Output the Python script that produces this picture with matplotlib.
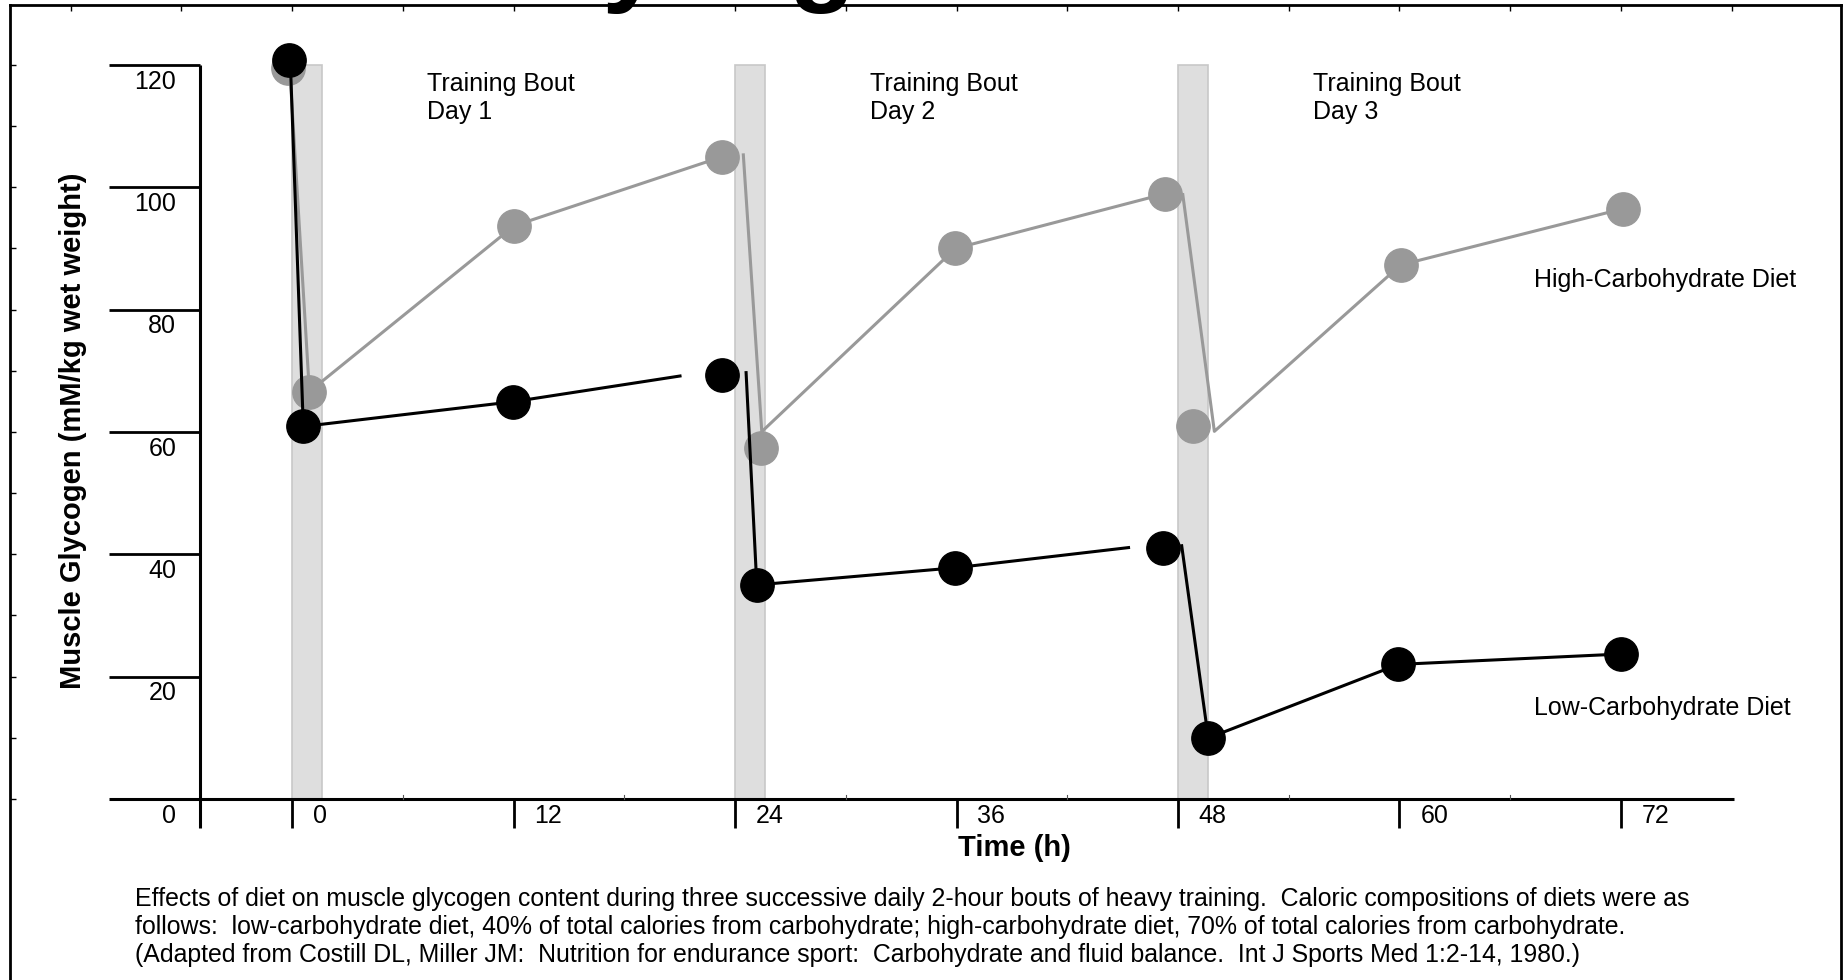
import numpy as np
import matplotlib
matplotlib.use("Agg")
import matplotlib.pyplot as plt
from matplotlib.patches import Rectangle

plt.rcParams['font.family'] = ['Liberation Sans', 'DejaVu Sans']

nan = np.nan

# marker positions: time (h), muscle glycogen (mM/kg wet weight)
high_t = [-0.2, 0.94, 12.03, 23.31, 25.41, 35.94, 47.3, 48.83, 60.06, 72.11]
high_v = [119.5, 66.6, 93.7, 105.0, 57.4, 90.0, 98.95, 61.0, 87.3, 96.5]
low_t = [-0.15, 0.61, 11.99, 23.28, 25.18, 35.94, 47.2, 49.64, 59.94, 72.0]
low_v = [120.8, 60.9, 64.95, 69.3, 35.0, 37.8, 41.0, 9.97, 22.0, 23.7]

# connecting lines as they are drawn in the figure (nan splits segments)
high_line_t = [-0.11, 0.94, 12.03, 23.31, nan, 24.45, 25.45, 35.94, 47.3, nan, 48.26, 49.97, 60.06, 72.11]
high_line_v = [118.7, 66.6, 93.7, 105.0, nan, 105.3, 60.05, 90.0, 98.95, nan, 98.8, 60.1, 87.3, 96.5]
low_line_t = [-0.07, 0.61, 11.99, 21.02, nan, 24.6, 25.18, 35.94, 45.32, nan, 48.2, 49.64, 59.94, 72.0]
low_line_v = [118.7, 60.9, 64.95, 69.15, nan, 69.7, 35.0, 37.8, 41.1, nan, 41.4, 9.97, 22.0, 23.7]

bout_start = [0, 24, 48]
bout_len = 1.6
bout_top = 120
bout_labels = ["Training Bout\nDay 1", "Training Bout\nDay 2", "Training Bout\nDay 3"]

x_ticks = [0, 12, 24, 36, 48, 60, 72]
x_minor = [6, 18, 30, 42, 54, 66]
y_ticks = [0, 20, 40, 60, 80, 100, 120]

caption = ("Effects of diet on muscle glycogen content during three successive daily 2-hour bouts of heavy training.  "
           "Caloric compositions of diets were as\n"
           "follows:  low-carbohydrate diet, 40% of total calories from carbohydrate; high-carbohydrate diet, "
           "70% of total calories from carbohydrate.\n"
           "(Adapted from Costill DL, Miller JM:  Nutrition for endurance sport:  Carbohydrate and fluid balance.  "
           "Int J Sports Med 1:2-14, 1980.)")

W, H = 1847, 980
fig = plt.figure(figsize=(W / 100, H / 100), dpi=100)
ax = fig.add_axes([10 / W, 0, (1841 - 10) / W, (H - 5) / H])
ax.set_xlim(-15.28, 83.92)
ax.set_ylim(-29.59, 129.8)

# outer frame
for side in ['left', 'top', 'right']:
    ax.spines[side].set_linewidth(2)
ax.spines['bottom'].set_visible(False)
ax.set_yticks(np.arange(0, 130, 10))
ax.xaxis.set_ticks_position('top')
ax.set_xticks(np.arange(-12, 84, 6))
ax.tick_params(direction='in', length=4, width=1, labelleft=False, labeltop=False,
               labelbottom=False, right=False, bottom=False)

# shaded training bouts
for s in bout_start:
    ax.add_patch(Rectangle((s, 0), bout_len, bout_top, facecolor='#dedede',
                           edgecolor='#c8c8c8', linewidth=1.2, zorder=1))

# axes drawn inside the frame
y_axis_t = -5
x_left, x_right = -9.9, 78.1
tick_drop = -4.75
ax.plot([x_left, x_right], [0, 0], color='black', lw=2.2, zorder=2, solid_capstyle='butt')
ax.plot([y_axis_t, y_axis_t], [tick_drop, 120], color='black', lw=2.2, zorder=2, solid_capstyle='butt')
for v in y_ticks[1:]:
    ax.plot([x_left, y_axis_t], [v, v], color='black', lw=2, zorder=2, solid_capstyle='butt')
for v in y_ticks:
    ax.annotate(str(v), (y_axis_t, v), xytext=(-17, -12), textcoords='offset points',
                ha='right', va='center', fontsize=18)
for t in x_ticks:
    ax.plot([t, t], [tick_drop, 0], color='black', lw=2, zorder=2, solid_capstyle='butt')
    ax.annotate(str(t), (t, 0), xytext=(15, -12), textcoords='offset points',
                ha='left', va='center', fontsize=18)
for t in x_minor:
    ax.plot([t, t], [0, 0.7], color='#555555', lw=0.8, zorder=2)

# data
ax.plot(high_line_t, high_line_v, color='#999999', lw=2.2, zorder=3)
ax.plot(high_t, high_v, 'o', color='#999999', ms=24, zorder=4)
ax.plot(low_line_t, low_line_v, color='black', lw=2.2, zorder=5)
ax.plot(low_t, low_v, 'o', color='black', ms=24, zorder=6)

for s, lab in zip(bout_start, bout_labels):
    ax.text(s + 7.3, 114.6, lab, fontsize=18, ha='left', va='center', linespacing=1.2)
ax.text(67.3, 84.8, "High-Carbohydrate Diet", fontsize=18, ha='left', va='center')
ax.text(67.3, 14.9, "Low-Carbohydrate Diet", fontsize=18, ha='left', va='center')

fig.text(73 / W, 1 - 431 / H, "Muscle Glycogen (mM/kg wet weight)", rotation=90,
         fontsize=21, fontweight='bold', ha='center', va='center')
fig.text(1014 / W, 1 - 848 / H, "Time (h)", fontsize=21, fontweight='bold', ha='center', va='center')
fig.text(135 / W, 1 - 887 / H, caption, fontsize=17.9, ha='left', va='top', linespacing=1.22)

# slide title, mostly above the visible area
fig.text(90 / W, 1 + 8 / H, "Muscle Glycogen", fontsize=78, fontweight='bold', ha='left', va='baseline')

fig.savefig("out.png", dpi=100)
